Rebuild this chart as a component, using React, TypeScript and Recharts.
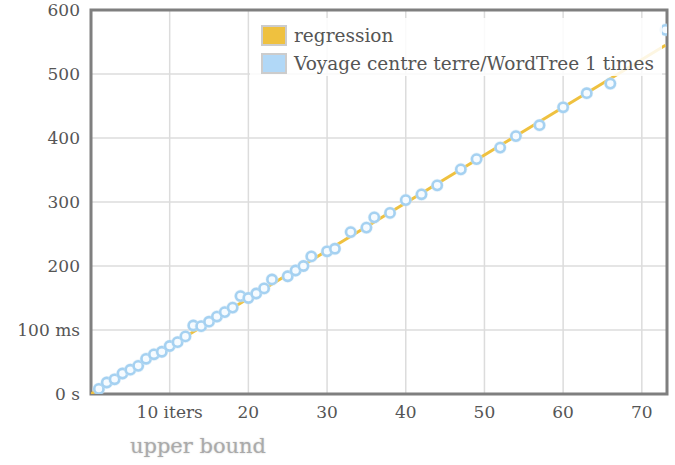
import React from 'react';
import { ScatterChart, Scatter, XAxis, YAxis, CartesianGrid, ReferenceArea } from 'recharts';

const ITERS = [1, 2, 3, 4, 5, 6, 7, 8, 9, 10, 11, 12, 13, 14, 15, 16, 17, 18, 19, 20, 21, 22, 23, 25, 26, 27, 28, 30, 31, 33, 35, 36, 38, 40, 42, 44, 47, 49, 52, 54, 57, 60, 63, 66, 73];
const TIMES = [8, 18, 23, 32, 38, 44, 55, 62, 66, 75, 81, 90, 107, 106, 113, 121, 128, 135, 153, 150, 157, 165, 179, 184, 193, 200, 215, 223, 227, 253, 260, 276, 283, 303, 312, 326, 351, 367, 385, 403, 420, 448, 470, 485, 569];

const REG_X = [0, 73];
const REG_Y = [0, 545];

const X_TICKS = [10, 20, 30, 40, 50, 60, 70];
const Y_TICKS = [0, 100, 200, 300, 400, 500, 600];

const SERIES_NAMES = ['regression', 'Voyage centre terre/WordTree 1 times'];
const SERIES_COLORS = ['#efc13f', '#b1d8f7'];

const FONT = '"DejaVu Serif", serif';

const points = ITERS.map((x, i) => ({ x, y: TIMES[i] }));
const regression = REG_X.map((x, i) => ({ x, y: REG_Y[i] }));

const fmtX = (v: number) => (v === 10 ? '10 iters' : String(v));
const fmtY = (v: number) => (v === 0 ? '0 s' : v === 100 ? '100 ms' : String(v));

const Dot = (props: any) => {
  const { cx, cy } = props;
  if (cx == null || cy == null) return <g />;
  return (
    <g>
      <circle cx={cx} cy={cy} r={6.5} fill="#cfe7f7" opacity={0.5} />
      <circle cx={cx} cy={cy} r={4.6} fill="#f6fbff" stroke="#a5d1f1" strokeWidth={2.6} />
    </g>
  );
};

export default function App() {
  const tick = { fill: '#555', fontSize: 17, fontFamily: FONT };
  return (
    <div style={{ position: 'absolute', left: 0, top: 0, width: 675, height: 465, background: '#fff' }}>
      <ScatterChart width={675} height={465} margin={{ top: 10, right: 8, bottom: 41, left: 0 }}>
        <CartesianGrid stroke="#dcdcdc" strokeWidth={1.5} verticalValues={X_TICKS} horizontalValues={Y_TICKS} />
        <XAxis
          type="number"
          dataKey="x"
          domain={[0, 73.2]}
          ticks={X_TICKS}
          tickFormatter={fmtX}
          axisLine={false}
          tickLine={false}
          tickSize={0}
          tickMargin={12}
          height={30}
          tick={tick}
          allowDataOverflow
        />
        <YAxis
          type="number"
          dataKey="y"
          domain={[0, 600]}
          ticks={Y_TICKS}
          tickFormatter={fmtY}
          axisLine={false}
          tickLine={false}
          tickSize={0}
          tickMargin={11}
          width={91}
          tick={tick}
          allowDataOverflow
        />
        <ReferenceArea x1={0} x2={73.2} y1={0} y2={600} fill="none" stroke="#7f7f7f" strokeWidth={3} ifOverflow="visible" />
        <Scatter
          data={regression}
          line={{ stroke: SERIES_COLORS[0], strokeWidth: 3 }}
          shape={() => <g />}
          isAnimationActive={false}
        />
        <Scatter data={points} shape={Dot} isAnimationActive={false} />
      </ScatterChart>

      <div
        style={{
          position: 'absolute',
          left: 250,
          top: 18,
          width: 412,
          height: 58,
          background: 'rgba(255,255,255,0.85)',
        }}
      />
      {SERIES_NAMES.map((name, i) => (
        <div
          key={name}
          style={{
            position: 'absolute',
            left: 261,
            top: 25 + i * 28,
            height: 21,
            display: 'flex',
            alignItems: 'center',
            fontFamily: FONT,
            fontSize: 18.5,
            color: '#555',
            whiteSpace: 'nowrap',
          }}
        >
          <span
            style={{
              display: 'inline-block',
              width: 22,
              height: 17,
              background: SERIES_COLORS[i],
              border: '2px solid #cccccc',
              marginRight: 7,
            }}
          />
          {name}
        </div>
      ))}
      <div
        style={{
          position: 'absolute',
          left: 90,
          width: 216,
          top: 434,
          textAlign: 'center',
          fontFamily: FONT,
          fontSize: 21,
          color: '#aaa',
          textShadow: '0 0 2px #ccc',
        }}
      >
        upper bound
      </div>
    </div>
  );
}
